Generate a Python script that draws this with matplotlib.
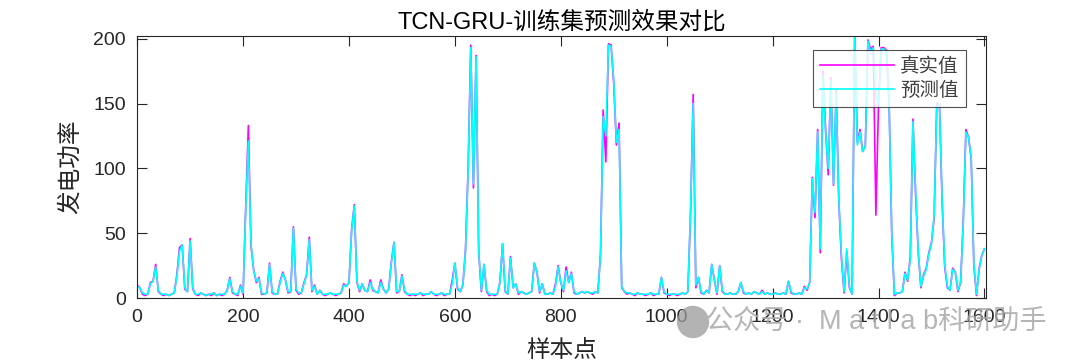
import numpy as np
import matplotlib
matplotlib.use("Agg")
import matplotlib.pyplot as plt
from matplotlib.patches import Ellipse

plt.rcParams['font.family'] = ['Liberation Sans', 'Noto Sans CJK SC', 'DejaVu Sans']

step = 5
n_samples = 1603

# true power (真实值), every 5 samples, 0..1600
true_vals = [
    10, 8, 3, 2, 3, 12, 13, 26, 5, 3, 2, 3, 2, 3, 4, 18, 39, 41, 7, 5,
    46, 7, 3, 2, 4, 3, 2, 3, 2, 4, 2, 3, 2, 3, 6, 16, 4, 3, 2, 10,
    3, 70, 133, 40, 22, 12, 16, 3, 3, 4, 27, 4, 3, 3, 13, 20, 14, 4, 5, 55,
    6, 3, 4, 12, 18, 47, 5, 10, 3, 6, 3, 2, 3, 4, 3, 2, 3, 4, 11, 9,
    12, 53, 72, 12, 5, 11, 6, 5, 14, 6, 5, 4, 14, 7, 4, 7, 28, 43, 4, 5,
    18, 5, 3, 2, 3, 2, 3, 4, 2, 3, 3, 5, 3, 2, 3, 4, 2, 3, 3, 14,
    27, 7, 5, 10, 37, 100, 195, 85, 187, 35, 5, 26, 5, 2, 3, 2, 3, 12, 42, 5,
    3, 32, 8, 11, 3, 5, 4, 3, 4, 5, 27, 20, 4, 11, 3, 3, 4, 3, 11, 25,
    12, 5, 24, 12, 20, 4, 3, 4, 5, 4, 5, 4, 3, 5, 4, 34, 145, 105, 196, 195,
    165, 118, 135, 8, 5, 3, 4, 3, 2, 4, 3, 3, 2, 3, 4, 2, 3, 3, 16, 4,
    3, 2, 3, 3, 2, 3, 4, 3, 5, 65, 157, 8, 16, 4, 3, 6, 4, 26, 14, 3,
    25, 5, 3, 3, 4, 3, 3, 5, 12, 4, 3, 4, 3, 5, 4, 3, 6, 3, 4, 3,
    3, 4, 3, 3, 4, 3, 13, 4, 3, 3, 4, 3, 9, 6, 12, 93, 62, 130, 35, 175,
    130, 95, 170, 87, 160, 74, 30, 4, 36, 8, 3, 205, 120, 130, 113, 117, 199, 192, 194, 64,
    150, 193, 193, 191, 150, 48, 2, 4, 4, 5, 20, 13, 32, 138, 80, 35, 8, 18, 23, 35,
    43, 62, 150, 150, 75, 24, 8, 6, 23, 20, 5, 12, 60, 130, 124, 107, 25, 2, 23, 33,
    38,
]

# predicted power (预测值)
pred_vals = [
    9, 8, 4, 3, 3, 11, 13, 24, 6, 3, 3, 3, 2, 3, 4, 17, 36, 41, 8, 5,
    44, 8, 3, 3, 4, 3, 2, 3, 3, 4, 2, 3, 3, 3, 6, 15, 5, 3, 3, 9,
    4, 68, 121, 42, 21, 13, 15, 4, 3, 4, 26, 5, 3, 3, 12, 19, 14, 5, 5, 54,
    7, 4, 4, 11, 18, 45, 6, 9, 3, 6, 3, 3, 3, 4, 3, 3, 3, 4, 10, 9,
    12, 52, 71, 13, 6, 11, 6, 5, 12, 7, 5, 4, 12, 7, 4, 7, 27, 43, 5, 5,
    17, 6, 3, 3, 3, 3, 3, 4, 3, 3, 3, 5, 3, 3, 3, 4, 3, 3, 3, 11,
    27, 8, 5, 10, 36, 98, 193, 88, 186, 36, 6, 26, 6, 3, 3, 3, 3, 12, 42, 6,
    3, 31, 8, 11, 4, 5, 4, 3, 4, 5, 27, 20, 5, 11, 3, 3, 4, 3, 9, 24,
    12, 6, 21, 12, 19, 5, 3, 4, 5, 4, 5, 4, 4, 5, 4, 33, 140, 125, 195, 194,
    168, 120, 130, 9, 5, 4, 4, 3, 3, 4, 3, 3, 3, 3, 4, 3, 3, 3, 16, 5,
    3, 3, 3, 3, 3, 3, 4, 3, 5, 68, 150, 10, 16, 5, 3, 6, 4, 26, 14, 4,
    25, 6, 3, 3, 4, 3, 3, 5, 12, 5, 3, 4, 3, 5, 4, 3, 5, 3, 4, 3,
    3, 4, 3, 3, 4, 3, 13, 5, 3, 3, 4, 3, 8, 7, 12, 92, 66, 128, 38, 172,
    128, 100, 168, 88, 158, 76, 33, 5, 38, 9, 3, 205, 118, 128, 113, 117, 198, 190, 193, 156,
    150, 192, 192, 190, 148, 50, 3, 4, 4, 5, 19, 14, 30, 136, 84, 36, 9, 17, 22, 34,
    42, 64, 148, 150, 78, 26, 9, 6, 22, 20, 6, 12, 58, 128, 124, 108, 27, 3, 22, 33,
    38,
]

x_ticks = [0, 200, 400, 600, 800, 1000, 1200, 1400, 1600]
y_ticks = [0, 50, 100, 150, 200]

samples = np.arange(len(true_vals)) * step

dark = '#262626'

fig = plt.figure(figsize=(10.8, 3.64), dpi=100)
ax = fig.add_axes([0.127, 0.181, 0.786, 0.72])

ax.plot(samples, true_vals, color='#ff00ff', lw=1.2, label='真实值')
ax.plot(samples, pred_vals, color='#00ffff', lw=1.2, label='预测值')

ax.set_xlim(0, n_samples)
ax.set_ylim(0, 202)
ax.set_xticks(x_ticks)
ax.set_yticks(y_ticks)
ax.tick_params(direction='in', length=7, width=0.8, colors=dark,
               labelsize=14, top=True, right=True, pad=8)
for sp in ax.spines.values():
    sp.set_color(dark)
    sp.set_linewidth(0.8)

ax.set_title('TCN-GRU-训练集预测效果对比', fontsize=17, color='black', pad=5)
ax.set_xlabel('样本点', fontsize=17, color=dark, labelpad=10)
ax.set_ylabel('发电功率', fontsize=17, color=dark, labelpad=8)

leg = ax.legend(loc='upper right', bbox_to_anchor=(0.976, 0.945), fontsize=14,
                handlelength=3.8, frameon=True, fancybox=False, borderaxespad=0,
                borderpad=0.35, labelspacing=0.3, handletextpad=0.35)
leg.get_frame().set_edgecolor(dark)
leg.get_frame().set_linewidth(0.8)
for t in leg.get_texts():
    t.set_color('#404040')

# watermark
cw = 0.030
fig.patches.append(Ellipse((693 / 1080, 1 - 322 / 364), cw, cw * 1080 / 364,
                           transform=fig.transFigure, facecolor='#9a9a9a',
                           alpha=0.75, edgecolor='none'))
fig.text(706 / 1080, 1 - 322 / 364, '公众号 ·  M a t l a b科研助手', fontsize=19.5,
         color='#a8a8a8', alpha=0.85, va='center', ha='left')

fig.savefig('out.png', dpi=100)
